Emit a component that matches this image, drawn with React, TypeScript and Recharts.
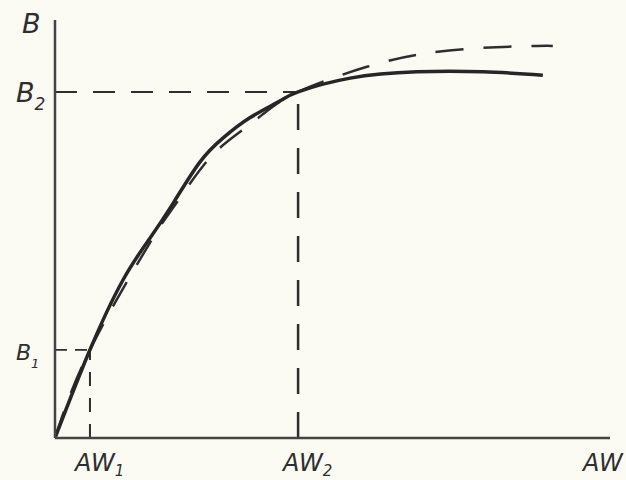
import React from 'react';
import { LineChart, Line, XAxis, YAxis, ReferenceLine, Label } from 'recharts';

// Magnetization curve (hand drawn): B vs AW, arbitrary units 0..100
const solidAW = [0, 6.3, 12.25, 17.1, 21.3, 26.1, 30.3, 35.1, 40.5, 43.8, 53.2, 65.2, 77.1, 87.9];
const solidB = [0, 21.1, 37.8, 47.8, 56.2, 66.0, 71.8, 76.6, 80.6, 82.8, 86.1, 87.6, 87.6, 86.8];

const dashedAW = [0, 6.3, 17.1, 21.4, 27.0, 32.1, 37.3, 43.8, 56.2, 66.3, 76.6, 86.8, 89.7];
const dashedB = [0, 21.1, 46.7, 55.3, 65.6, 72.0, 77.3, 82.8, 88.8, 91.9, 93.3, 93.8, 93.8];

const AW1 = 6.3;
const AW2 = 43.8;
const B1 = 21.1;
const B2 = 82.8;

const xTicks = [AW1, AW2];
const xTickSubs = ['1', '2'];
const yTicks = [B1, B2];
const yTickSubs = ['1', '2'];

const solidData = solidAW.map((x, i) => ({ x, b: solidB[i] }));
const dashedData = dashedAW.map((x, i) => ({ x, b: dashedB[i] }));

const INK = '#2e2e2e';
const FONT = '"DejaVu Sans", "Liberation Sans", sans-serif';

const XTick = (props: any) => {
  const { x, y, index } = props;
  return (
    <text x={x - 15} y={y + 33} fill={INK} fontFamily={FONT} fontStyle="italic" fontSize={24} textAnchor="start">
      AW<tspan dy={5} fontSize={15}>{xTickSubs[index]}</tspan>
    </text>
  );
};

const YTick = (props: any) => {
  const { y, index } = props;
  return (
    <text x={16} y={y + 10} fill={INK} fontFamily={FONT} fontStyle="italic" fontSize={index === 0 ? 22 : 27} textAnchor="start">
      B<tspan dy={8} fontSize={index === 0 ? 13 : 17}>{yTickSubs[index]}</tspan>
    </text>
  );
};

export default function App() {
  return (
    <div style={{ position: 'absolute', left: 0, top: 0, width: 626, height: 480, background: '#fbfaf3' }}>
      <LineChart width={626} height={480} data={solidData} margin={{ top: 20, right: 16, left: 0, bottom: 0 }}>
        <XAxis
          type="number"
          dataKey="x"
          domain={[0, 100]}
          ticks={xTicks}
          tick={<XTick />}
          tickSize={0}
          tickMargin={0}
          height={42}
          axisLine={{ stroke: '#444', strokeWidth: 2.5 }}
          tickLine={false}
          allowDataOverflow
        >
          <Label
            content={(p: any) => {
              const vb = p.viewBox;
              return (
                <text x={vb.x + vb.width - 27} y={vb.y + 33} fill={INK} fontFamily={FONT} fontStyle="italic" fontSize={24}>
                  AW
                </text>
              );
            }}
          />
        </XAxis>
        <YAxis
          type="number"
          dataKey="b"
          domain={[0, 100]}
          ticks={yTicks}
          tick={<YTick />}
          tickSize={0}
          tickMargin={0}
          width={55}
          axisLine={{ stroke: '#444', strokeWidth: 2.5 }}
          tickLine={false}
          allowDataOverflow
        >
          <Label
            content={(p: any) => {
              const vb = p.viewBox;
              return (
                <text x={vb.x + 22} y={vb.y + 13} fill={INK} fontFamily={FONT} fontStyle="italic" fontSize={27}>
                  B
                </text>
              );
            }}
          />
        </YAxis>
        <ReferenceLine segment={[{ x: 0, y: B2 }, { x: AW2, y: B2 }]} stroke={INK} strokeWidth={2} strokeDasharray="22 16" />
        <ReferenceLine segment={[{ x: AW2, y: 0 }, { x: AW2, y: B2 }]} stroke={INK} strokeWidth={2.5} strokeDasharray="26 18" />
        <ReferenceLine segment={[{ x: 0, y: B1 }, { x: AW1, y: B1 }]} stroke={INK} strokeWidth={1.8} strokeDasharray="12 8" />
        <ReferenceLine segment={[{ x: AW1, y: 0 }, { x: AW1, y: B1 }]} stroke={INK} strokeWidth={2} strokeDasharray="14 12" />
        <Line
          data={dashedData}
          dataKey="b"
          type="natural"
          stroke={INK}
          strokeWidth={2.5}
          strokeDasharray="28 20"
          dot={false}
          isAnimationActive={false}
        />
        <Line
          data={solidData}
          dataKey="b"
          type="natural"
          stroke="#262626"
          strokeWidth={3.5}
          dot={false}
          isAnimationActive={false}
        />
      </LineChart>
    </div>
  );
}
